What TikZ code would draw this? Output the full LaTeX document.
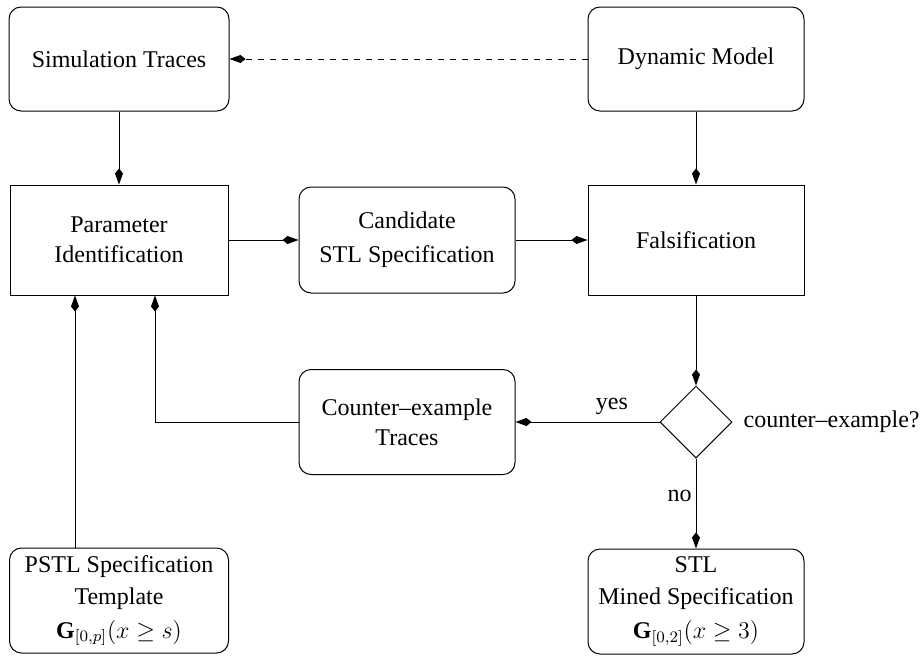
\documentclass[tikz,border=0pt]{standalone}
\usepackage{fontspec}
\setmainfont{Liberation Serif}
\usetikzlibrary{arrows.meta,positioning,shapes.geometric}

\begin{document}
\begin{tikzpicture}[x=0.5pt,y=-0.5pt,line width=0.5pt,font=\fontsize{12}{15}\selectfont,
  box/.style={draw,rounded corners=6pt,align=center,minimum width=108pt,minimum height=53pt,inner sep=2pt},
  sbox/.style={draw,align=center,minimum width=109pt,minimum height=55pt,inner sep=2pt},
  arr/.style={-{Kite[length=8pt,width=4pt,inset=2.5pt]}}]
\useasboundingbox (0,0) rectangle (920,655);
\node[sbox] (param) at (119,240) {Parameter\\Identification};
\node[box,minimum width=110pt,minimum height=52pt,above=36.5pt of param] (sim) {Simulation Traces};
\node[box,right=35pt of param] (cand) {Candidate\\[2pt]STL Specification};
\node[sbox,minimum width=108pt,right=36pt of cand] (fals) {Falsification};
\node[box,minimum height=52pt,above=36.5pt of fals] (dyn) {Dynamic Model};
\node[draw,diamond,minimum size=36pt,inner sep=0pt,below=45pt of fals] (dia) {};
\node[right=2pt of dia] (q) {counter--example?};
\node[box,minimum height=52.5pt,left=72pt of dia] (cex) {Counter--example\\Traces};
\node[box,minimum height=52.5pt,below=45pt of dia] (stl) {STL\\[1pt]Mined Specification\\[2pt]$\mathbf{G}_{[0,2]}(x \geq 3)$};
\node[box,minimum width=109.5pt,minimum height=52.5pt,below=126pt of param] (pstl) {PSTL Specification\\[1pt]Template\\[2pt]$\mathbf{G}_{[0,p]}(x \geq s)$};
\draw[arr,dashed] (dyn) -- (sim);
\draw[arr] (sim) -- (param);
\draw[arr] (dyn) -- (fals);
\draw[arr] (param) -- (cand);
\draw[arr] (cand) -- (fals);
\draw[arr] (fals) -- (dia);
\draw[arr] (dia) -- node[above,pos=0.33] {yes} (cex);
\draw[arr] (dia) -- node[left,pos=0.42,inner sep=2pt] {no} (stl);
\draw[arr] (cex.west) -| ([xshift=18pt]param.south);
\draw[arr] ([xshift=-22pt]pstl.north) -- ([xshift=-22pt]param.south);
\end{tikzpicture}
\end{document}
